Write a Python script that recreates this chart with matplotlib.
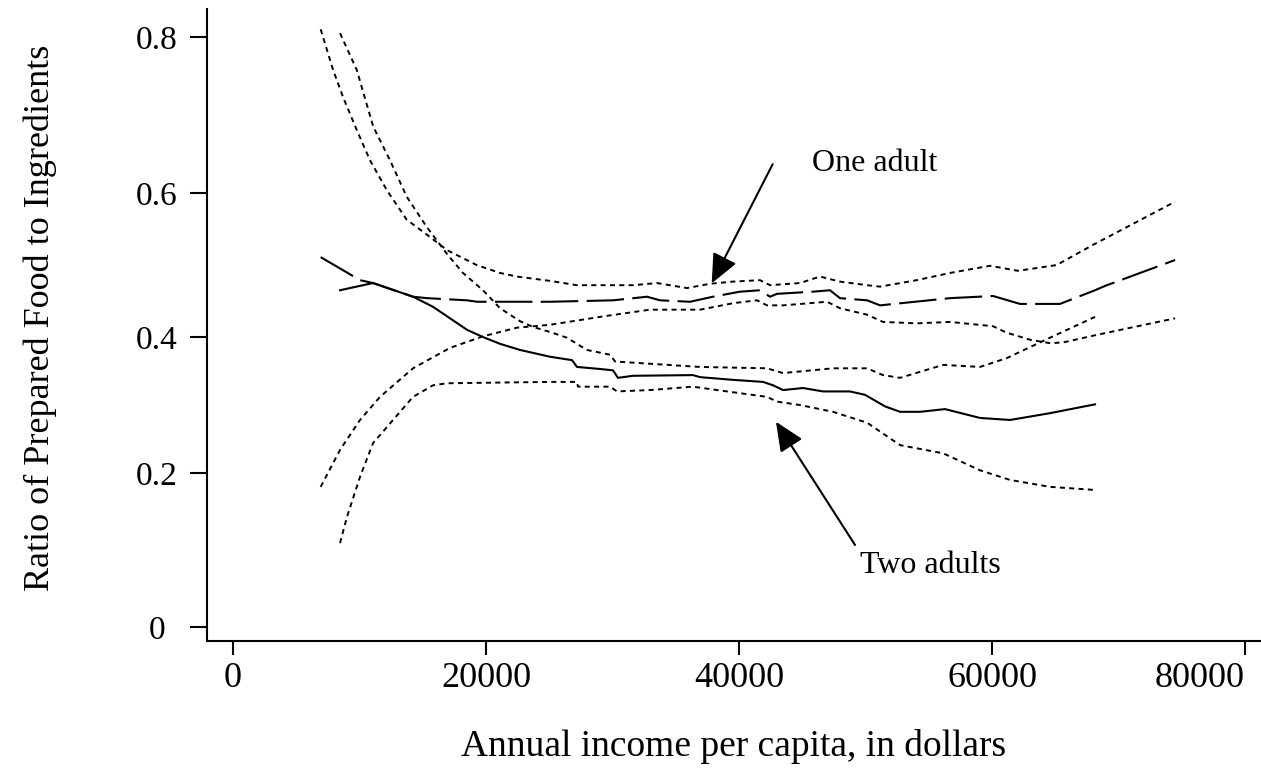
import numpy as np
import matplotlib
matplotlib.use("Agg")
import matplotlib.pyplot as plt

# one adult: point estimate and confidence band
one_x = [6930, 10040, 11070, 14230, 15340, 18500, 19290, 25060, 30040, 32730,
         33750, 36130, 37940, 40080, 41660, 42450, 43000, 45850, 47190, 47980,
         50120, 51150, 53910, 56680, 60080, 62210, 65370, 68140, 68930, 74470]
one_y = [0.511, 0.479, 0.475, 0.456, 0.454, 0.451, 0.449, 0.449, 0.451, 0.456,
         0.451, 0.449, 0.456, 0.463, 0.465, 0.456, 0.460, 0.463, 0.465, 0.454,
         0.451, 0.444, 0.449, 0.454, 0.457, 0.446, 0.446, 0.465, 0.471, 0.507]

one_hi_x = [6930, 7910, 8700, 9780, 10830, 12150, 13730, 15570, 16890, 19260,
            21110, 22430, 25060, 27190, 31620, 33520, 35890, 37710, 39530, 41660,
            42450, 44820, 46400, 47980, 50120, 51150, 54050, 56680, 59840, 62050,
            65110, 67980, 74470]
one_hi_y = [0.810, 0.758, 0.723, 0.681, 0.642, 0.604, 0.563, 0.539, 0.521, 0.500,
            0.489, 0.484, 0.478, 0.472, 0.472, 0.475, 0.468, 0.474, 0.477, 0.479,
            0.472, 0.475, 0.484, 0.477, 0.472, 0.470, 0.479, 0.489, 0.499, 0.492,
            0.500, 0.528, 0.588]

one_lo_x = [6930, 8460, 10040, 11620, 14230, 17150, 19760, 22450, 25060, 29010,
            32960, 36920, 39530, 41420, 42210, 43480, 46960, 47980, 50120, 51380,
            54050, 56680, 60080, 61160, 63000, 64580, 65610, 68280, 74470]
one_lo_y = [0.182, 0.234, 0.278, 0.312, 0.354, 0.384, 0.401, 0.413, 0.417, 0.428,
            0.438, 0.438, 0.447, 0.451, 0.444, 0.444, 0.449, 0.440, 0.431, 0.421,
            0.419, 0.421, 0.415, 0.406, 0.396, 0.391, 0.392, 0.403, 0.426]

# two adults: point estimate and confidence band
two_x = [8460, 11070, 14230, 15810, 18500, 19760, 21110, 22690, 25060, 26800,
         27190, 29010, 30040, 30430, 31620, 36360, 36920, 39530, 41900, 42690,
         43480, 45060, 46640, 48770, 49960, 51540, 52730, 54310, 56280, 59050,
         61420, 64580, 68140]
two_y = [0.465, 0.475, 0.456, 0.442, 0.410, 0.400, 0.390, 0.381, 0.371, 0.366,
         0.356, 0.353, 0.351, 0.340, 0.343, 0.344, 0.341, 0.337, 0.334, 0.329,
         0.322, 0.325, 0.320, 0.320, 0.315, 0.298, 0.290, 0.290, 0.294, 0.281,
         0.278, 0.288, 0.301]

two_hi_x = [8460, 9780, 11090, 12410, 13730, 15310, 16890, 18180, 19760, 21110,
            22690, 23720, 25060, 26400, 27980, 29800, 30200, 36920, 42210, 43480,
            47430, 50120, 51380, 52730, 56130, 59050, 61160, 64580, 68140]
two_hi_y = [0.805, 0.758, 0.685, 0.642, 0.595, 0.553, 0.516, 0.489, 0.465, 0.440,
            0.422, 0.414, 0.407, 0.399, 0.381, 0.374, 0.364, 0.356, 0.354, 0.347,
            0.354, 0.354, 0.344, 0.340, 0.359, 0.356, 0.369, 0.399, 0.428]

two_lo_x = [8460, 9010, 10040, 11070, 12650, 14230, 15810, 16920, 25060, 27190,
            27270, 29800, 30360, 32960, 36360, 38260, 42210, 43000, 44820, 47430,
            50120, 52730, 56130, 59050, 61420, 64580, 68140]
two_lo_y = [0.109, 0.143, 0.195, 0.244, 0.278, 0.312, 0.329, 0.332, 0.334, 0.334,
            0.327, 0.327, 0.320, 0.322, 0.327, 0.322, 0.312, 0.305, 0.300, 0.290,
            0.274, 0.241, 0.229, 0.204, 0.191, 0.182, 0.178]

xticks = [0, 20000, 40000, 60000, 80000]
yticks = [0, 0.2, 0.4, 0.6, 0.8]
ytick_labels = ["0", "0.2", "0.4", "0.6", "0.8"]

# the printed y axis is not evenly spaced; tick spacing in pixels
ytick_pos = [0, 154, 290, 434, 590]


def _interp_ext(v, xs, ys):
    v = np.asarray(v, dtype=float)
    out = np.interp(v, xs, ys)
    lo = ys[0] + (v - xs[0]) * (ys[1] - ys[0]) / (xs[1] - xs[0])
    hi = ys[-1] + (v - xs[-1]) * (ys[-1] - ys[-2]) / (xs[-1] - xs[-2])
    out = np.where(v < xs[0], lo, out)
    out = np.where(v > xs[-1], hi, out)
    return out


def fwd(v):
    return _interp_ext(v, yticks, ytick_pos)


def inv(p):
    return _interp_ext(p, ytick_pos, yticks)


plt.rcParams['font.family'] = ['Liberation Serif', 'DejaVu Serif']

fig = plt.figure(figsize=(12.61, 7.69), dpi=100)
ax = fig.add_axes([207 / 1261, 1 - 641 / 769, 1 - 207 / 1261, (641 - 9) / 769])
ax.set_yscale('function', functions=(fwd, inv))

ci = dict(color='k', lw=1.4, linestyle=(0, (2.6, 2.2)))
ax.plot(one_hi_x, one_hi_y, **ci)
ax.plot(one_lo_x, one_lo_y, **ci)
ax.plot(two_hi_x, two_hi_y, **ci)
ax.plot(two_lo_x, two_lo_y, **ci)
ax.plot(one_x, one_y, color='k', lw=1.5, linestyle=(0, (18, 4)))
ax.plot(two_x, two_y, color='k', lw=1.5)

ax.set_xlim(-2055, 81260)
ax.set_ylim(-0.0182, 0.836)
ax.set_xticks(xticks)
ax.set_xticklabels([str(t) for t in xticks])
ax.set_yticks(yticks)
ax.set_yticklabels(ytick_labels)
ax.minorticks_off()

for s in ['top', 'right']:
    ax.spines[s].set_visible(False)
for s in ['left', 'bottom']:
    ax.spines[s].set_linewidth(1.5)

ax.tick_params(axis='both', width=1.5, direction='out')
ax.tick_params(axis='x', length=10, pad=5, labelsize=26)
ax.tick_params(axis='y', length=12, pad=24, labelsize=24)
for lab in ax.get_yticklabels():
    lab.set_horizontalalignment('center')
# last x label sits left of its tick so it stays on the page
ax.get_xticklabels()[-1].set_horizontalalignment('right')

ax.set_xlabel("Annual income per capita, in dollars", fontsize=27, va='center')
ax.xaxis.set_label_coords(0.5, -(746 - 641) / 632)
ax.set_ylabel("Ratio of Prepared Food to Ingredients", fontsize=26, va='center')
ax.yaxis.set_label_coords(-(207 - 40) / 1054, (641 - 318) / 632)

arrow = dict(arrowstyle='-|>,head_length=0.9,head_width=0.4', color='k',
             lw=1.5, mutation_scale=20, shrinkA=0, shrinkB=0)
ax.text(45750, 0.638, "One adult", fontsize=23, va='center', ha='left')
ax.annotate('', xy=(37840, 0.4746), xytext=(42660, 0.637), arrowprops=arrow)
ax.text(49570, 0.0805, "Two adults", fontsize=23, va='center', ha='left')
ax.annotate('', xy=(42920, 0.2754), xytext=(49170, 0.1065), arrowprops=arrow)

fig.savefig("out.png", dpi=100)
